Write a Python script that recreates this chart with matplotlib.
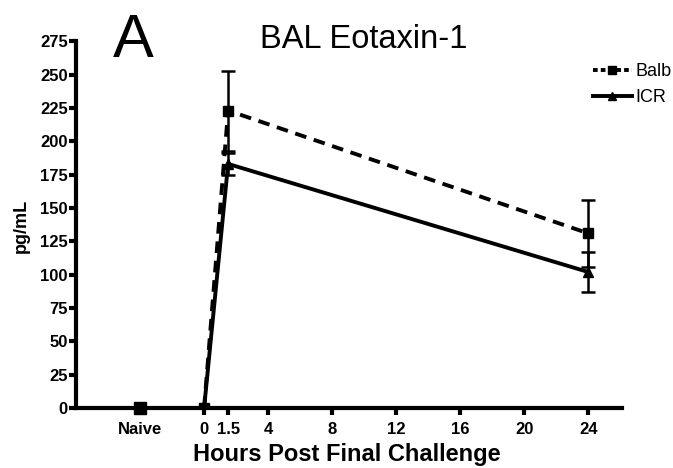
import matplotlib
matplotlib.use("Agg")
import matplotlib.pyplot as plt
import numpy as np

plt.rcParams['font.family'] = ['Liberation Sans', 'DejaVu Sans']

# DATA
hours = [0, 1.5, 24]
naive_x = -4
balb = [0, 223, 131]
balb_err = [0, 30, 25]
icr = [0, 183, 102]
icr_err = [0, 8, 15]
balb_naive = 0
icr_naive = 0
tick_pos = [-4, 0, 1.5, 4, 8, 12, 16, 20, 24]
tick_lab = ["Naive", "0", "1.5", "4", "8", "12", "16", "20", "24"]
y_ticks = list(range(0, 276, 25))

fig = plt.figure(figsize=(6.73, 4.68), dpi=100)
ax = fig.add_axes([0.113, 0.128, 0.811, 0.784])

lw = 2.8
ax.errorbar(hours, balb, yerr=balb_err, fmt='s', ms=7, color='black',
            ecolor='black', elinewidth=1.8, capsize=5, capthick=1.8, zorder=3)
ax.plot(hours, balb, color='black', lw=lw, ls=(0, (3, 2)), zorder=3)
ax.errorbar(hours, icr, yerr=icr_err, fmt='^', ms=7, color='black',
            ecolor='black', elinewidth=1.8, capsize=5, capthick=1.8, zorder=3)
ax.plot(hours, icr, color='black', lw=lw, zorder=3)
ax.plot([naive_x], [icr_naive], marker='^', ms=7, color='black', ls='none', clip_on=False, zorder=4)
ax.plot([naive_x], [balb_naive], marker='s', ms=8, color='black', ls='none', clip_on=False, zorder=4)

# legend handles
ax.plot([], [], color='black', lw=lw, ls=(0, (1.2, 0.8)), marker='s', ms=6, label='Balb')
ax.plot([], [], color='black', lw=lw, marker='^', ms=6, label='ICR')
handles, labels = ax.get_legend_handles_labels()
leg = fig.legend(handles[-2:], labels[-2:], loc='upper left', bbox_to_anchor=(0.881, 0.865),
                 frameon=False, fontsize=13, handlelength=2.15, handletextpad=0.2,
                 labelspacing=0.5, borderpad=0, borderaxespad=0)

ax.set_xlim(-8, 26.1)
ax.set_ylim(0, 275)
ax.set_xticks(tick_pos)
ax.set_xticklabels(tick_lab)
ax.set_yticks(y_ticks)
for s in ['top', 'right']:
    ax.spines[s].set_visible(False)
for s in ['left', 'bottom']:
    ax.spines[s].set_linewidth(3)
ax.tick_params(axis='both', direction='out', length=5, width=3, labelsize=12)
ax.tick_params(axis='x', pad=5)
ax.tick_params(axis='y', pad=1)
for lab in ax.get_xticklabels() + ax.get_yticklabels():
    lab.set_fontweight('bold')

fig.text(0.516, 0.014, "Hours Post Final Challenge", fontsize=17, fontweight='bold',
         ha='center', va='baseline')
fig.text(0.031, 0.517, "pg/mL", fontsize=13, fontweight='bold', rotation=90,
         ha='center', va='center')

fig.text(0.198, 0.878, "A", fontsize=44, ha='center', va='baseline')
fig.text(0.541, 0.897, "BAL Eotaxin-1", fontsize=23.5, ha='center', va='baseline')

fig.savefig("out.png", dpi=100)
